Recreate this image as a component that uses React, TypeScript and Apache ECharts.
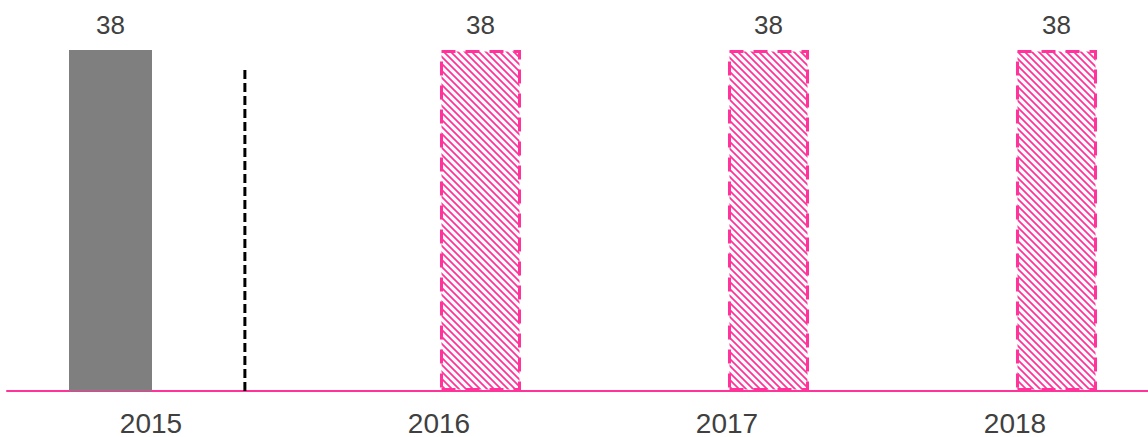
import React, { useEffect, useRef } from "react";
import * as echarts from "echarts";

// Data
const years = ["2015", "2016", "2017", "2018"];
const actualValues: (number | null)[] = [38, null, null, null];
const forecastValues: (number | null)[] = [null, 38, 38, 38];
// divider position on a helper value axis aligned with the category bands (-0.5 .. 3.5)
const dividerPosition = 0.326;
const dividerHeight = 35.8;
const yMax = 38;

const PINK = "#ff3399";
const GREY = "#7f7f7f";
const TEXT = "#404040";
const FONT = "'Liberation Sans', Arial, Helvetica, sans-serif";

function makeHatch(): HTMLCanvasElement {
  const size = 7;
  const c = document.createElement("canvas");
  c.width = size;
  c.height = size;
  const ctx = c.getContext("2d")!;
  ctx.fillStyle = "#ffffff";
  ctx.fillRect(0, 0, size, size);
  ctx.strokeStyle = PINK;
  ctx.lineWidth = 1.8;
  ctx.beginPath();
  ctx.moveTo(-1, -1);
  ctx.lineTo(size + 1, size + 1);
  ctx.moveTo(-1, size - 1);
  ctx.lineTo(1, size + 1);
  ctx.moveTo(size - 1, -1);
  ctx.lineTo(size + 1, 1);
  ctx.stroke();
  return c;
}

export default function App() {
  const ref = useRef<HTMLDivElement>(null);

  useEffect(() => {
    if (!ref.current) return;
    const chart = echarts.init(ref.current, undefined, { renderer: "svg" });
    const hatch = makeHatch();

    const labelStyle = {
      show: true,
      position: "top" as const,
      distance: 12,
      color: TEXT,
      fontSize: 26,
      fontFamily: FONT,
    };

    chart.setOption({
      animation: false,
      grid: { left: 7, right: 0, top: 50, bottom: 46, containLabel: false },
      xAxis: [
        {
          type: "category",
          data: years,
          splitLine: { show: false },
          axisTick: { show: false },
          axisLine: { show: true, lineStyle: { color: PINK, width: 2 } },
          axisLabel: {
            interval: 0,
            color: TEXT,
            fontSize: 28,
            fontFamily: FONT,
            margin: 18,
          },
        },
        {
          type: "value",
          min: -0.5,
          max: 3.5,
          show: false,
          splitLine: { show: false },
        },
      ],
      yAxis: {
        type: "value",
        min: 0,
        max: yMax,
        show: false,
        splitLine: { show: false },
      },
      series: [
        {
          name: "Actual",
          type: "bar",
          data: actualValues,
          barWidth: 83,
          barGap: "0%",
          itemStyle: { color: GREY },
          label: labelStyle,
          z: 2,
        },
        {
          name: "Forecast",
          type: "bar",
          data: forecastValues,
          barWidth: 81,
          barGap: "0%",
          itemStyle: {
            color: { image: hatch, repeat: "repeat" } as any,
            borderColor: PINK,
            borderWidth: 3,
            borderType: [14, 10] as any,
          },
          label: labelStyle,
          z: 2,
        },
        {
          type: "line",
          xAxisIndex: 1,
          data: [
            [dividerPosition, 0],
            [dividerPosition, dividerHeight],
          ],
          symbol: "none",
          lineStyle: { color: "#000000", width: 3, type: [9, 4] },
          z: 1,
        },
      ],
    });

    return () => chart.dispose();
  }, []);

  return (
    <div style={{ position: "absolute", left: 0, top: 0, width: 1148, height: 437, overflow: "hidden" }}>
      <div ref={ref} style={{ width: 1159, height: 437 }} />
    </div>
  );
}
